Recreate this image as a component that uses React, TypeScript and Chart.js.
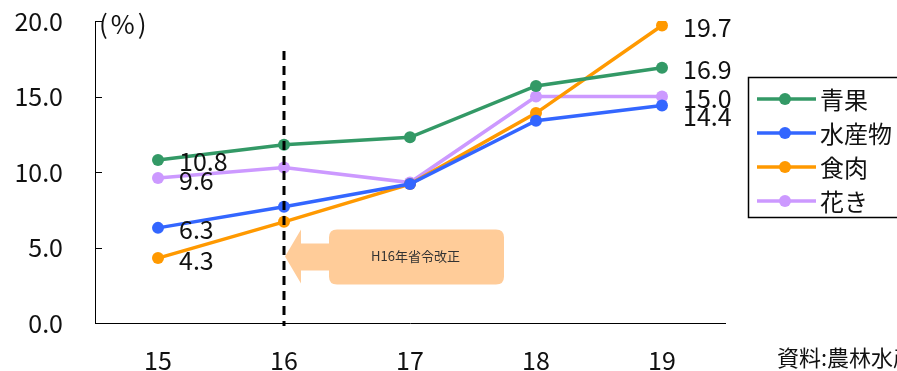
import React, { useEffect, useRef } from "react";
import { Chart, registerables } from "chart.js";

Chart.register(...registerables);

const categories = ["15", "16", "17", "18", "19"];
const seika = [10.8, 11.8, 12.3, 15.7, 16.9];
const suisan = [6.3, 7.7, 9.2, 13.4, 14.4];
const shokuniku = [4.3, 6.7, 9.2, 13.9, 19.7];
const kaki = [9.6, 10.3, 9.3, 15.0, 15.0];
const seriesNames = ["青果", "水産物", "食肉", "花き"];
const seriesColors = ["#339966", "#3366FF", "#FF9900", "#CC99FF"];
const yTicks = [0, 5, 10, 15, 20];
const annotationText = "H16年省令改正";
const sourceText = "資料:農林水産省";

const FONT = "'Noto Sans CJK JP', 'Noto Sans', sans-serif";

const overlayPlugin = {
  id: "overlay",
  afterDatasetsDraw(chart: any) {
    const ctx = chart.ctx as CanvasRenderingContext2D;
    const xs = chart.scales.x;
    const ys = chart.scales.y;
    const area = chart.chartArea;
    ctx.save();

    ctx.strokeStyle = "#000";
    ctx.lineWidth = 1;
    yTicks.forEach((v) => {
      const y = Math.round(ys.getPixelForValue(v)) + 0.5;
      ctx.beginPath();
      ctx.moveTo(area.left, y);
      ctx.lineTo(area.left + 7, y);
      ctx.stroke();
    });

    const xd = xs.getPixelForValue(1);
    ctx.strokeStyle = "#000";
    ctx.lineWidth = 3;
    ctx.setLineDash([9, 6]);
    ctx.beginPath();
    ctx.moveTo(xd, area.top + 30);
    ctx.lineTo(xd, area.bottom + 3);
    ctx.stroke();
    ctx.setLineDash([]);

    const tipX = xd + 1;
    const cy = ys.getPixelForValue(4.4);
    ctx.fillStyle = "#FFCC99";
    ctx.beginPath();
    ctx.moveTo(tipX, cy);
    ctx.lineTo(tipX + 16, cy - 27);
    ctx.lineTo(tipX + 16, cy - 13);
    ctx.lineTo(tipX + 50, cy - 13);
    ctx.lineTo(tipX + 50, cy + 14);
    ctx.lineTo(tipX + 16, cy + 14);
    ctx.lineTo(tipX + 16, cy + 27);
    ctx.closePath();
    ctx.fill();
    const bx = tipX + 44;
    const bw = 175;
    const by = cy - 27;
    const bh = 55;
    const r = 8;
    ctx.beginPath();
    ctx.moveTo(bx + r, by);
    ctx.lineTo(bx + bw - r, by);
    ctx.quadraticCurveTo(bx + bw, by, bx + bw, by + r);
    ctx.lineTo(bx + bw, by + bh - r);
    ctx.quadraticCurveTo(bx + bw, by + bh, bx + bw - r, by + bh);
    ctx.lineTo(bx + r, by + bh);
    ctx.quadraticCurveTo(bx, by + bh, bx, by + bh - r);
    ctx.lineTo(bx, by + r);
    ctx.quadraticCurveTo(bx, by, bx + r, by);
    ctx.closePath();
    ctx.fill();
    ctx.fillStyle = "#333";
    ctx.font = `13px ${FONT}`;
    ctx.textAlign = "center";
    ctx.textBaseline = "middle";
    ctx.fillText(annotationText, bx + bw / 2 - 1, cy);

    ctx.fillStyle = "#111";
    ctx.font = `25px ${FONT}`;
    ctx.textAlign = "left";
    ctx.textBaseline = "middle";
    chart.data.datasets.forEach((ds: any, di: number) => {
      const meta = chart.getDatasetMeta(di);
      const last = ds.data.length - 1;
      [0, last].forEach((i) => {
        const pt = meta.data[i];
        const shift = di === 1 && i === last ? 11 : 2;
        ctx.fillText(Number(ds.data[i]).toFixed(1), pt.x + 21, pt.y + shift);
      });
    });

    ctx.font = `26px ${FONT}`;
    ctx.fillStyle = "#111";
    (ctx as any).letterSpacing = "3px";
    ctx.fillText("(%)", area.left + 4, area.top + 3);
    (ctx as any).letterSpacing = "0px";

    ctx.font = `22px ${FONT}`;
    ctx.fillText(sourceText, 777, 358);

    const lx = 748;
    const ly = 77;
    ctx.strokeStyle = "#000";
    ctx.lineWidth = 1.5;
    ctx.strokeRect(lx + 0.5, ly + 0.5, 200, 140);
    seriesNames.forEach((name, i) => {
      const y = 99 + i * 34;
      ctx.strokeStyle = seriesColors[i];
      ctx.lineWidth = 3.5;
      ctx.beginPath();
      ctx.moveTo(757, y);
      ctx.lineTo(816, y);
      ctx.stroke();
      ctx.fillStyle = seriesColors[i];
      ctx.beginPath();
      ctx.arc(785, y, 6, 0, Math.PI * 2);
      ctx.fill();
      ctx.fillStyle = "#111";
      ctx.font = `24px ${FONT}`;
      ctx.textBaseline = "middle";
      ctx.fillText(name, 820, y + 1);
    });

    ctx.restore();
  },
};

export default function App() {
  const ref = useRef<HTMLCanvasElement | null>(null);
  useEffect(() => {
    if (!ref.current) return;
    const values = [seika, suisan, shokuniku, kaki];
    const chart = new Chart(ref.current, {
      type: "line",
      data: {
        labels: categories,
        datasets: values.map((d, i) => ({
          label: seriesNames[i],
          data: d,
          borderColor: seriesColors[i],
          backgroundColor: seriesColors[i],
          borderWidth: 3.5,
          pointRadius: 6,
          pointBorderWidth: 0,
          pointBackgroundColor: seriesColors[i],
          tension: 0,
        })),
      },
      options: {
        responsive: false,
        animation: false,
        layout: { padding: { top: 21, right: 172, left: 0, bottom: 0 } },
        plugins: { legend: { display: false }, tooltip: { enabled: false } },
        scales: {
          x: {
            offset: true,
            grid: { display: false, drawTicks: false },
            border: { display: true, color: "#000", width: 1 },
            ticks: { color: "#111", font: { size: 25, family: FONT }, padding: 22, maxRotation: 0 },
            afterFit: (s: any) => {
              s.height = 48;
            },
          },
          y: {
            min: 0,
            max: 20,
            grid: { display: false, drawTicks: false },
            border: { display: true, color: "#000", width: 1 },
            ticks: {
              stepSize: 5,
              color: "#111",
              font: { size: 25, family: FONT },
              padding: 32,
              callback: (v: any) => Number(v).toFixed(1),
            },
            afterFit: (s: any) => {
              s.width = 95;
              s.paddingTop = 0;
              s.paddingBottom = 0;
            },
          },
        },
      },
      plugins: [overlayPlugin],
    });
    return () => chart.destroy();
  }, []);
  return (
    <div style={{ position: "fixed", left: 0, top: 0, width: 897, height: 371, background: "#fff" }}>
      <canvas ref={ref} width={897} height={371} />
    </div>
  );
}
